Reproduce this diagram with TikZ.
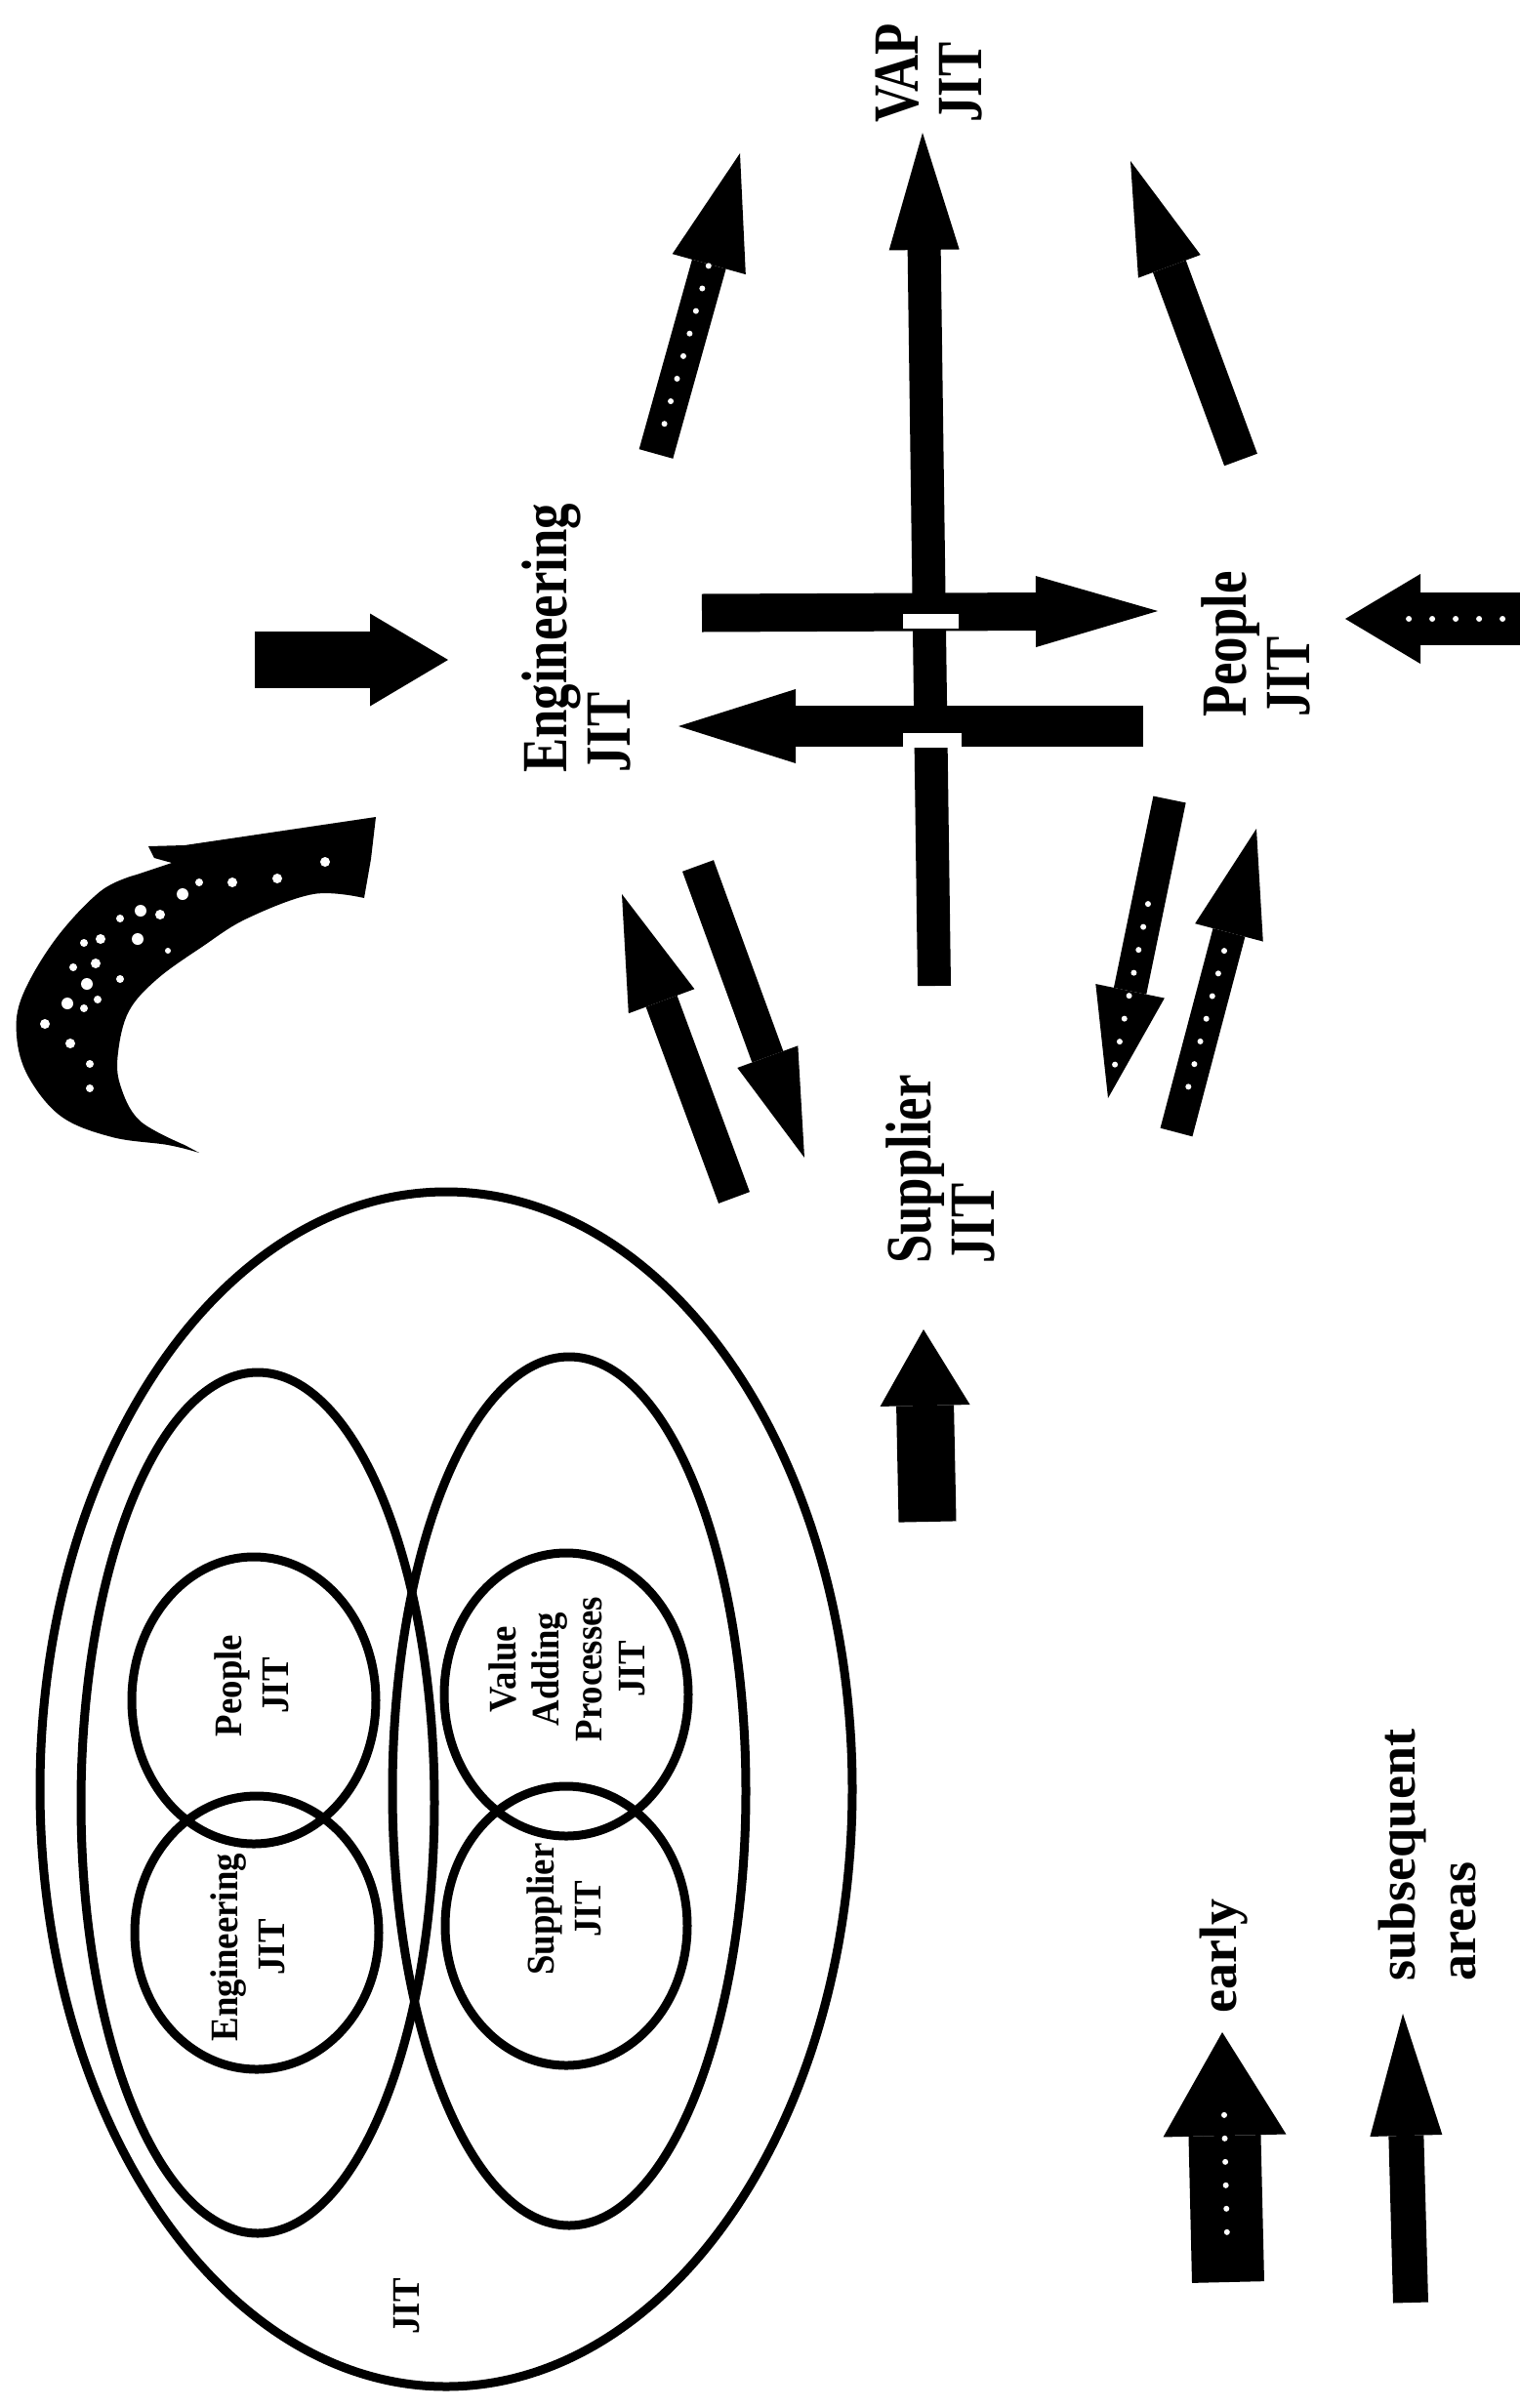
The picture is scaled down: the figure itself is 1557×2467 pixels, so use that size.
\documentclass[tikz,border=0pt]{standalone}
\usepackage{fontspec}
\setmainfont{Liberation Serif}
\newfontfamily\lblfont[FakeStretch=0.8]{Liberation Serif}
\newfontfamily\cirfont[FakeStretch=0.92]{Liberation Serif}
\usetikzlibrary{arrows.meta,calc}
\begin{document}
\begin{tikzpicture}[x=1pt,y=-1pt,
  ring/.style={draw=black, line width=9pt},
  blk/.style n args={3}{draw=black, line width=#1, -{Triangle[width=#2, length=#3, line width=0pt]}},
  wdots/.style={draw=white, line width=6pt, line cap=round, dash pattern=on 0pt off 24pt},
  lbl/.style={rotate=90, align=left, inner sep=0pt, font=\lblfont\bfseries\fontsize{66}{65}\selectfont},
  cir/.style={rotate=90, align=center, inner sep=0pt, font=\cirfont\bfseries\fontsize{40}{48}\selectfont},
  leg/.style={rotate=90, align=left, inner sep=0pt, font=\bfseries\fontsize{54}{62}\selectfont},
]
\fill[white] (0,0) rectangle (1557,2467);
\useasboundingbox (0,0) rectangle (1557,2467);

% ---------- labels ----------
\node[lbl, anchor=south west] (vap) at (1006,126) {VAP\\JIT};
\node[lbl, anchor=south west] (eng) at (646,792) {Engineering\\JIT};
\node[lbl, anchor=south west] (ppl) at (1342,735) {People\\JIT};
\node[lbl, anchor=south west] (sup) at (1019,1295) {Supplier\\JIT};

% ---------- arrow end points ----------
\coordinate (inEt) at (261,676);   \coordinate (inEh) at (459,676);
\coordinate (evT) at (672,465);    \coordinate (evH) at (758,157);
\coordinate (pvT) at (1271,471);   \coordinate (pvH) at (1158,165);
\coordinate (svT) at (957,1010);   \coordinate (svH) at (945,136);
\coordinate (epT) at (719,628);    \coordinate (epH) at (1186,626);
\coordinate (peT) at (1171,744);   \coordinate (peH) at (695,744);
\coordinate (seT) at (752,1227);   \coordinate (seH) at (637,916);
\coordinate (esT) at (715,887);    \coordinate (esH) at (824,1186);
\coordinate (psT) at (1198,819);   \coordinate (psH) at (1135,1125);
\coordinate (spT) at (1205,1160);  \coordinate (spH) at (1287,849);
\coordinate (inPt) at (1557,634);  \coordinate (inPh) at (1378,634);
\coordinate (inSt) at (950,1559);  \coordinate (inSh) at (946,1362);

% ---------- arrows ----------
\draw[blk={58pt}{95pt}{80pt}] (inEt) -- (inEh);
\draw[blk={36pt}{78pt}{118pt}] (evT) -- (evH);
\draw[wdots] ($(evT)!0.1!(evH)$) -- ($(evT)!0.68!(evH)$);
\draw[blk={36pt}{68pt}{115pt}] (pvT) -- (pvH);
\draw[blk={34pt}{72pt}{120pt}] (svT) -- (svH);
\draw[blk={39pt}{73pt}{125pt}] (epT) -- (epH);
\draw[blk={42pt}{76pt}{120pt}] (peT) -- (peH);
\fill[white] (925,629) rectangle (982,644);
\fill[white] (925,751) rectangle (985,766);
\draw[blk={34pt}{72pt}{117pt}] (seT) -- (seH);
\draw[blk={34pt}{66pt}{110pt}] (esT) -- (esH);
\draw[blk={34pt}{72pt}{112pt}] (psT) -- (psH);
\draw[wdots] ($(psT)!0.35!(psH)$) -- ($(psT)!0.9!(psH)$);
\draw[blk={34pt}{72pt}{110pt}] (spT) -- (spH);
\draw[wdots] ($(spT)!0.15!(spH)$) -- ($(spT)!0.65!(spH)$);
\draw[blk={54pt}{92pt}{77pt}] (inPt) -- (inPh);
\draw[wdots] ($(inPt)!0.1!(inPh)$) -- ($(inPt)!0.7!(inPh)$);
\draw[blk={59pt}{92pt}{78pt}] (inSt) -- (inSh);

% ---------- curved horn arrow ----------
\fill[black] (385,837) -- (189,866) -- (152,867) -- (158,879) -- (176,884)
  -- plot[smooth, tension=0.6] coordinates {(140,896) (103,913) (57,962) (23,1020) (17,1061) (29,1103) (63,1144) (115,1165) (172,1173) (204,1181)}
  -- plot[smooth, tension=0.6] coordinates {(189,1173) (143,1148) (123,1111) (121,1078) (132,1036) (161,1003) (207,970) (253,941) (321,916) (373,920)}
  -- (380,880) -- cycle;
\foreach \a/\b/\r in {333/883/5, 284/900/5, 238/904/5, 204/904/4, 187/916/6, 164/937/5, 144/933/6,
  123/941/4, 103/962/5, 141/962/6, 86/966/4, 75/991/4, 98/987/5, 89/1008/6, 69/1028/6, 86/1033/4,
  100/1024/4, 46/1049/5, 72/1069/5, 92/1090/4, 92/1115/4, 123/1003/4, 172/974/3}
  \fill[white] (\a,\b) circle[radius=\r pt];

% ---------- JIT ellipse diagram ----------
\draw[ring] (457,1833) ellipse [x radius=416pt, y radius=612pt];
\draw[ring] (264,1847) ellipse [x radius=181pt, y radius=441pt];
\draw[ring] (583,1835) ellipse [x radius=181pt, y radius=445pt];
\draw[ring] (260,1742) ellipse [x radius=125pt, y radius=147pt];
\draw[ring] (263,1980) ellipse [x radius=125pt, y radius=140pt];
\draw[ring] (580,1736) ellipse [x radius=125pt, y radius=145pt];
\draw[ring] (580,1973) ellipse [x radius=124pt, y radius=143pt];
\node[cir] (cppl) at (258,1727) {People\\JIT};
\node[cir] (ceng) at (254,1995) {Engineering\\JIT};
\node[cir, font=\cirfont\bfseries\fontsize{40}{44}\selectfont] (cvap) at (581,1710) {Value\\Adding\\Processes\\JIT};
\node[cir] (csup) at (578,1956) {Supplier\\JIT};
\node[cir] (cjit) at (417,2363) {JIT};

% ---------- legend ----------
\coordinate (lgAt) at (1258,2338); \coordinate (lgAh) at (1252,2082);
\coordinate (lgBt) at (1445,2359); \coordinate (lgBh) at (1437,2063);
\draw[blk={74pt}{126pt}{106pt}] (lgAt) -- (lgAh);
\draw[wdots] ($(lgAt)!0.2!(lgAh)$) -- ($(lgAt)!0.7!(lgAh)$);
\draw[blk={36pt}{74pt}{125pt}] (lgBt) -- (lgBh);
\node[leg, anchor=base west] (early) at (1266,2063) {early};
\node[leg, anchor=south west] (subs) at (1512,2030) {subsequent\\areas};
\end{tikzpicture}
\end{document}
